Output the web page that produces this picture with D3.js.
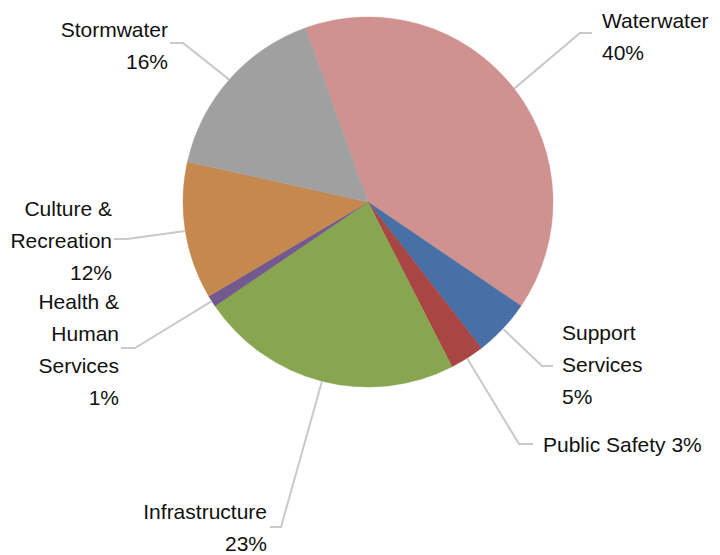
<!DOCTYPE html>
<html>
<head>
<meta charset="utf-8">
<script src="https://cdn.jsdelivr.net/npm/d3@7"></script>
<style>
  html, body { margin: 0; padding: 0; background: #ffffff; }
  svg { display: block; }
  text { font-family: "Liberation Sans", Arial, sans-serif; font-size: 21px; fill: #111; }
</style>
</head>
<body>
<svg id="chart" width="720" height="555"></svg>
<script>
// Budget shares by service area (percent), listed clockwise
const categories = ["Waterwater", "Support Services", "Public Safety", "Infrastructure",
                    "Health & Human Services", "Culture & Recreation", "Stormwater"];
const values = [40, 5, 3, 23, 1, 12, 16];
const colors = ["#d09191", "#4771a6", "#a94644", "#88a54f", "#72598f", "#c5884f", "#a0a0a0"];

// Label text lines per slice (the percentage line is appended from the value)
const labelLines = [
  ["Waterwater"],
  ["Support", "Services"],
  ["Public Safety"],
  ["Infrastructure"],
  ["Health &", "Human", "Services"],
  ["Culture &", "Recreation"],
  ["Stormwater"]
];

// Label placement: text anchor point, alignment, elbow of the leader line
const labelLayout = [
  { x: 602, y: 28,  anchor: "start", inline: false, elbow: [580, 33],  end: [592, 33] },
  { x: 562, y: 340, anchor: "start", inline: false, elbow: [542, 366], end: [553, 366] },
  { x: 543, y: 452, anchor: "start", inline: true,  elbow: [519, 444], end: [533, 444] },
  { x: 267, y: 519, anchor: "end",   inline: false, elbow: [281, 527], end: [270, 527] },
  { x: 119, y: 309, anchor: "end",   inline: false, elbow: [135, 348], end: [121, 348] },
  { x: 112, y: 216, anchor: "end",   inline: false, elbow: [127, 239], end: [114, 239] },
  { x: 168, y: 37,  anchor: "end",   inline: false, elbow: [183, 43],  end: [170, 43] }
];

const cx = 368, cy = 202, radius = 185;
const start = -19.8 * Math.PI / 180;
const lineHeight = 32;

const svg = d3.select("#chart");
const g = svg.append("g").attr("transform", `translate(${cx},${cy})`);

const data = categories.map((c, i) => ({ name: c, value: values[i], color: colors[i], i }));

const pie = d3.pie()
  .sort(null)
  .value(d => d.value)
  .startAngle(start)
  .endAngle(start + 2 * Math.PI);

const arcs = pie(data);
const arc = d3.arc().innerRadius(0).outerRadius(radius);

g.selectAll("path.slice")
  .data(arcs)
  .join("path")
  .attr("class", "slice")
  .attr("d", arc)
  .attr("fill", d => d.data.color)
  .attr("stroke", d => d.data.color)
  .attr("stroke-width", 0.5);

// Leader lines from slice edge (mid-angle) to elbow then to the label
const lines = svg.append("g");
arcs.forEach(a => {
  const mid = (a.startAngle + a.endAngle) / 2;
  const px = cx + radius * Math.sin(mid);
  const py = cy - radius * Math.cos(mid);
  const L = labelLayout[a.data.i];
  lines.append("polyline")
    .attr("points", [[px, py], L.elbow, L.end].map(p => p.join(",")).join(" "))
    .attr("fill", "none")
    .attr("stroke", "#c9c9c9")
    .attr("stroke-width", 2);
});

// Labels
const labels = svg.append("g");
arcs.forEach(a => {
  const i = a.data.i;
  const L = labelLayout[i];
  const pct = d3.format(".0f")(a.data.value) + "%";
  let lns = labelLines[i].slice();
  if (L.inline) lns[lns.length - 1] += " " + pct;
  else lns.push(pct);
  const t = labels.append("text")
    .attr("text-anchor", L.anchor);
  lns.forEach((s, k) => {
    t.append("tspan")
      .attr("x", L.x)
      .attr("y", L.y + k * lineHeight)
      .text(s);
  });
});
</script>
</body>
</html>
